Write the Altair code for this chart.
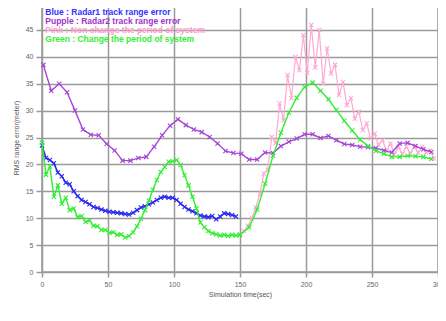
import altair as alt
import pandas as pd

blue_t = [0, 3, 6, 9, 12, 15, 18, 21, 24, 27, 30, 33, 36, 39, 42, 45, 48, 51, 54, 57,
          60, 63, 66, 69, 72, 75, 78, 81, 84, 87, 90, 93, 96, 99, 102, 105, 108, 111, 114, 117,
          120, 123, 126, 129, 132, 135, 138, 141, 144, 147]
blue_v = [23.5, 21.2, 20.8, 20.2, 18.5, 17.8, 16.6, 16.3, 15.0, 14.1, 13.4, 13.0, 12.6, 12.1, 11.9,
          11.6, 11.4, 11.2, 11.1, 11.0, 10.9, 10.8, 10.7, 11.0, 11.5, 12.0, 12.2, 12.6, 12.9, 13.4,
          13.8, 14.0, 13.8, 13.8, 13.4, 12.7, 12.1, 11.6, 11.3, 10.9, 10.5, 10.3, 10.2, 10.4, 9.8,
          10.3, 10.9, 10.8, 10.6, 10.3]

purple_t = [1, 7, 13, 19, 25, 31, 37, 43, 49, 55, 61, 67, 73, 79, 85, 91, 97, 103, 109, 115,
            121, 127, 133, 139, 145, 151, 157, 163, 169, 175, 181, 187, 193, 199, 205, 211, 217, 223,
            229, 235, 241, 247, 253, 259, 265, 271, 277, 283, 289, 295]
purple_v = [38.5, 33.7, 35.0, 33.4, 30.0, 26.5, 25.5, 25.4, 23.8, 22.6, 20.7, 20.7, 21.2, 21.4, 23.3,
            25.4, 27.2, 28.4, 27.3, 26.5, 26.0, 25.1, 23.9, 22.5, 22.1, 22.0, 20.9, 20.9, 22.2, 22.1,
            23.4, 24.2, 24.8, 25.6, 25.6, 24.9, 25.3, 24.5, 23.8, 23.6, 23.3, 23.2, 23.0, 22.6, 22.2,
            23.9, 24.0, 23.4, 22.8, 22.3]

pink_t = [150, 153, 156, 159, 162, 165, 168, 171, 174, 177, 180, 183, 186, 189, 192, 195, 198, 201,
          204, 207, 210, 213, 216, 219, 222, 225, 228, 231, 234, 237, 240, 243, 246, 249, 252, 255,
          258, 261, 264, 267, 270, 273, 276, 279, 282, 285, 288, 291, 294, 297]
pink_v = [7.0, 7.6, 8.6, 10.0, 12.0, 14.5, 18.3, 19.0, 25.1, 24.0, 31.3, 28.2, 36.6, 32.3, 40.0,
          37.5, 44.0, 37.0, 45.9, 38.0, 45.0, 35.0, 41.6, 36.9, 38.5, 32.9, 35.3, 31.0, 32.3, 28.5,
          29.8, 26.4, 27.6, 24.8, 25.7, 23.6, 24.5, 22.5, 23.9, 21.9, 23.3, 21.9, 23.3, 22.0, 23.3,
          22.2, 23.3, 22.2, 22.6, 21.1]

green_t = [0, 3, 6, 9, 12, 15, 18, 21, 24, 27, 30, 33, 36, 39, 42, 45, 48, 51, 54, 57, 60, 63, 66,
           69, 72, 75, 78, 81, 84, 87, 90, 93, 96, 99, 102, 105, 108, 111, 114, 117, 120, 123, 126,
           129, 132, 135, 138, 141, 144, 147, 150, 157, 163, 169, 175, 181, 187, 193, 199, 205, 211,
           217, 223, 229, 235, 241, 247, 253, 259, 265, 271, 277, 283, 289, 295]
green_v = [24.0, 18.1, 19.6, 14.0, 16.1, 12.7, 13.8, 11.5, 11.8, 10.2, 10.4, 9.3, 9.6, 8.6, 8.5,
           7.8, 7.8, 7.3, 7.4, 6.9, 7.0, 6.4, 6.7, 7.4, 8.5, 9.9, 11.5, 13.3, 15.3, 17.1, 18.6, 19.5,
           20.5, 20.6, 20.8, 19.9, 18.0, 16.1, 14.0, 11.8, 9.2, 8.3, 7.6, 7.2, 7.0, 6.8, 6.9, 6.7,
           6.9, 6.8, 6.9, 8.3, 11.6, 16.4, 21.6, 25.9, 29.6, 32.4, 34.4, 35.2, 33.7, 32.1, 30.1, 28.1,
           26.3, 24.6, 23.4, 22.5, 22.0, 21.4, 21.4, 21.6, 21.5, 21.4, 21.0]

series_names = ["pink", "purple", "blue", "green"]
series_colors = ["#ffa8d4", "#a646d6", "#2a2af0", "#33ee33"]
series_widths = [1.2, 1.4, 1.6, 1.4]

legend_text = ["Blue : Radar1 track range error",
               "Pupple : Radar2 track range error",
               "Pink : Non change the period of system",
               "Green : Change the period of system"]
legend_colors = ["#3333ff", "#a033cc", "#ff99cc", "#33ee33"]
legend_y = [48.3, 46.65, 44.98, 43.31]

x_ticks = [0, 50, 100, 150, 200, 250, 300]
y_ticks = [0, 5, 10, 15, 20, 25, 30, 35, 40, 45, 50]

series_data = {"pink": (pink_t, pink_v), "purple": (purple_t, purple_v),
               "blue": (blue_t, blue_v), "green": (green_t, green_v)}

xs = alt.Scale(domain=[0, 300], nice=False)
ys = alt.Scale(domain=[0, 50], nice=False)

common = dict(grid=True, gridColor="#9a9a9a", gridWidth=1.5, gridOpacity=1, domain=False,
              tickColor="#9a9a9a", tickWidth=1.5, labelFontSize=7, labelColor="#666",
              labelFont="Liberation Sans", titleFontSize=7, titleFont="Liberation Sans",
              titleFontWeight="normal", titleColor="#555", labelPadding=3, labelOverlap=False,
              labelFlush=False)
xaxis = alt.Axis(values=x_ticks, title="Simulation time(sec)", tickSize=5, titlePadding=3, **common)
yaxis = alt.Axis(values=y_ticks, title="RMS range error(meter)", tickSize=6, titlePadding=6, **common)

X = alt.X("t:Q", scale=xs, axis=xaxis)
Y = alt.Y("v:Q", scale=ys, axis=yaxis)

xshape = "M-1,-1L1,1M1,-1L-1,1"
layers = []
for name, col, sw in zip(series_names, series_colors, series_widths):
    ts, vs = series_data[name]
    sub = pd.DataFrame({"t": ts, "v": vs})
    layers.append(alt.Chart(sub).mark_line(strokeWidth=sw, color=col).encode(x=X, y=Y))
    layers.append(alt.Chart(sub).mark_point(shape=xshape, size=18, filled=False, strokeWidth=1.1,
                                             opacity=1, color=col).encode(x=X, y=Y))

for txt, col, yv in zip(legend_text, legend_colors, legend_y):
    d = pd.DataFrame({"t": [2.5], "v": [yv], "label": [txt]})
    layers.append(alt.Chart(d).mark_text(align="left", baseline="middle", fontSize=8.5,
                                         fontWeight="bold", font="Liberation Sans", color=col)
                  .encode(x=X, y=Y, text="label:N"))

chart = alt.layer(*layers).properties(
    width=396, height=269,
    autosize=alt.AutoSizeParams(type="none"),
    padding={"left": 34, "top": -5, "right": 0, "bottom": 40},
).configure_view(stroke="#9a9a9a", strokeWidth=1.5)

chart.save("out.html", embed_options={"renderer": "svg", "actions": False})
